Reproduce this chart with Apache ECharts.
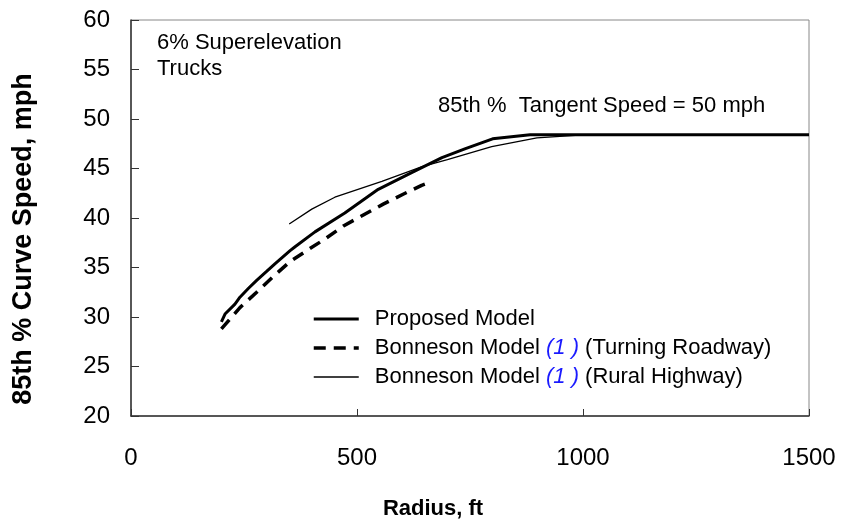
<!DOCTYPE html>
<html>
<head>
<meta charset="utf-8">
<script src="https://cdn.jsdelivr.net/npm/echarts@6/dist/echarts.min.js"></script>
<style>
  html, body { margin: 0; padding: 0; background: #fff; }
  #chart { width: 842px; height: 525px; }
</style>
</head>
<body>
<div id="chart"></div>
<script>
// Radius (ft) and 85th percentile curve speed (mph) for each model
const proposedRadius = [200, 208, 230, 241, 260, 278, 300, 319, 352, 363, 407, 473, 547, 622, 688, 740, 800, 883, 1000, 1500];
const proposedSpeed  = [29.5, 30.3, 31.3, 32.0, 32.9, 33.7, 34.6, 35.4, 36.7, 37.1, 38.6, 40.5, 42.9, 44.6, 46.1, 47.0, 48.0, 48.4, 48.4, 48.4];

const turningRadius = [200, 241, 278, 315, 352, 392, 433, 470, 514, 558, 602, 643, 655];
const turningSpeed  = [28.8, 30.95, 32.5, 34.1, 35.6, 36.8, 38.0, 39.2, 40.3, 41.4, 42.4, 43.3, 43.5];

const ruralRadius = [350, 400, 451, 555, 644, 700, 798, 898, 1000, 1500];
const ruralSpeed  = [39.4, 40.9, 42.1, 43.7, 45.2, 45.9, 47.2, 48.1, 48.4, 48.4];

const seriesNames = [
  'Proposed Model',
  'Bonneson Model (1) (Turning Roadway)',
  'Bonneson Model (1) (Rural Highway)'
];

const pair = (xs, ys) => xs.map((x, i) => [x, ys[i]]);

const FONT = '"Liberation Sans", Arial, sans-serif';

const lineStyles = [
  { color: '#000', width: 3 },
  { color: '#000', width: 3.5, type: [12, 8] },
  { color: '#000', width: 1.3 }
];

const chart = echarts.init(document.getElementById('chart'), null, { renderer: 'canvas' });

chart.setOption({
  animation: false,
  backgroundColor: '#ffffff',
  color: ['#000', '#000', '#000'],
  grid: {
    left: 131, right: 33, top: 20, bottom: 108,
    show: true, borderColor: '#888888', borderWidth: 1
  },
  xAxis: {
    type: 'value', min: 0, max: 1500, interval: 500,
    name: 'Radius, ft', nameLocation: 'middle', nameGap: 82,
    nameTextStyle: { fontFamily: FONT, fontSize: 22, fontWeight: 'bold', color: '#000', padding: [0, 74, 0, 0] },
    axisLine: { show: true, onZero: false, lineStyle: { color: '#333', width: 1.5 } },
    axisTick: { show: true, inside: true, length: 7, lineStyle: { color: '#333', width: 1 } },
    axisLabel: { fontFamily: FONT, fontSize: 24, color: '#000', margin: 30, formatter: v => String(v) },
    splitLine: { show: false }
  },
  yAxis: {
    type: 'value', min: 20, max: 60, interval: 5,
    name: '85th % Curve Speed, mph', nameLocation: 'middle', nameGap: 94,
    nameTextStyle: { fontFamily: FONT, fontSize: 27, fontWeight: 'bold', color: '#000', padding: [0, 42, 0, 0] },
    axisLine: { show: true, onZero: false, lineStyle: { color: '#333', width: 1.5 } },
    axisTick: { show: true, inside: true, length: 8, lineStyle: { color: '#333', width: 1 } },
    axisLabel: { fontFamily: FONT, fontSize: 24, color: '#000', margin: 21 },
    splitLine: { show: false }
  },
  legend: {
    orient: 'vertical',
    left: 312, top: 308, padding: 0,
    itemWidth: 45, itemHeight: 22, itemGap: 7,
    itemStyle: { opacity: 0 },
    data: seriesNames.map((name, i) => ({ name, lineStyle: lineStyles[i] })),
    formatter: name => name.replace('(1)', '{ref|(1 )}'),
    textStyle: {
      fontFamily: FONT, fontSize: 22, color: '#000', lineHeight: 22,
      padding: [0, 0, 0, 11],
      rich: { ref: { fontFamily: FONT, fontSize: 22, color: '#1a1aff', fontStyle: 'italic' } }
    }
  },
  graphic: [
    { type: 'text', left: 157, top: 32, style: { text: '6% Superelevation', font: '22px ' + FONT, fill: '#000' } },
    { type: 'text', left: 157, top: 58, style: { text: 'Trucks', font: '22px ' + FONT, fill: '#000' } },
    { type: 'text', left: 438, top: 95, style: { text: '85th %  Tangent Speed = 50 mph', font: '22px ' + FONT, fill: '#000' } }
  ],
  series: [
    {
      name: seriesNames[0], type: 'line', data: pair(proposedRadius, proposedSpeed),
      symbol: 'none', z: 4, lineStyle: lineStyles[0]
    },
    {
      name: seriesNames[1], type: 'line', data: pair(turningRadius, turningSpeed),
      symbol: 'none', z: 3, lineStyle: lineStyles[1]
    },
    {
      name: seriesNames[2], type: 'line', data: pair(ruralRadius, ruralSpeed),
      symbol: 'none', z: 2, lineStyle: lineStyles[2]
    }
  ]
});
</script>
</body>
</html>
